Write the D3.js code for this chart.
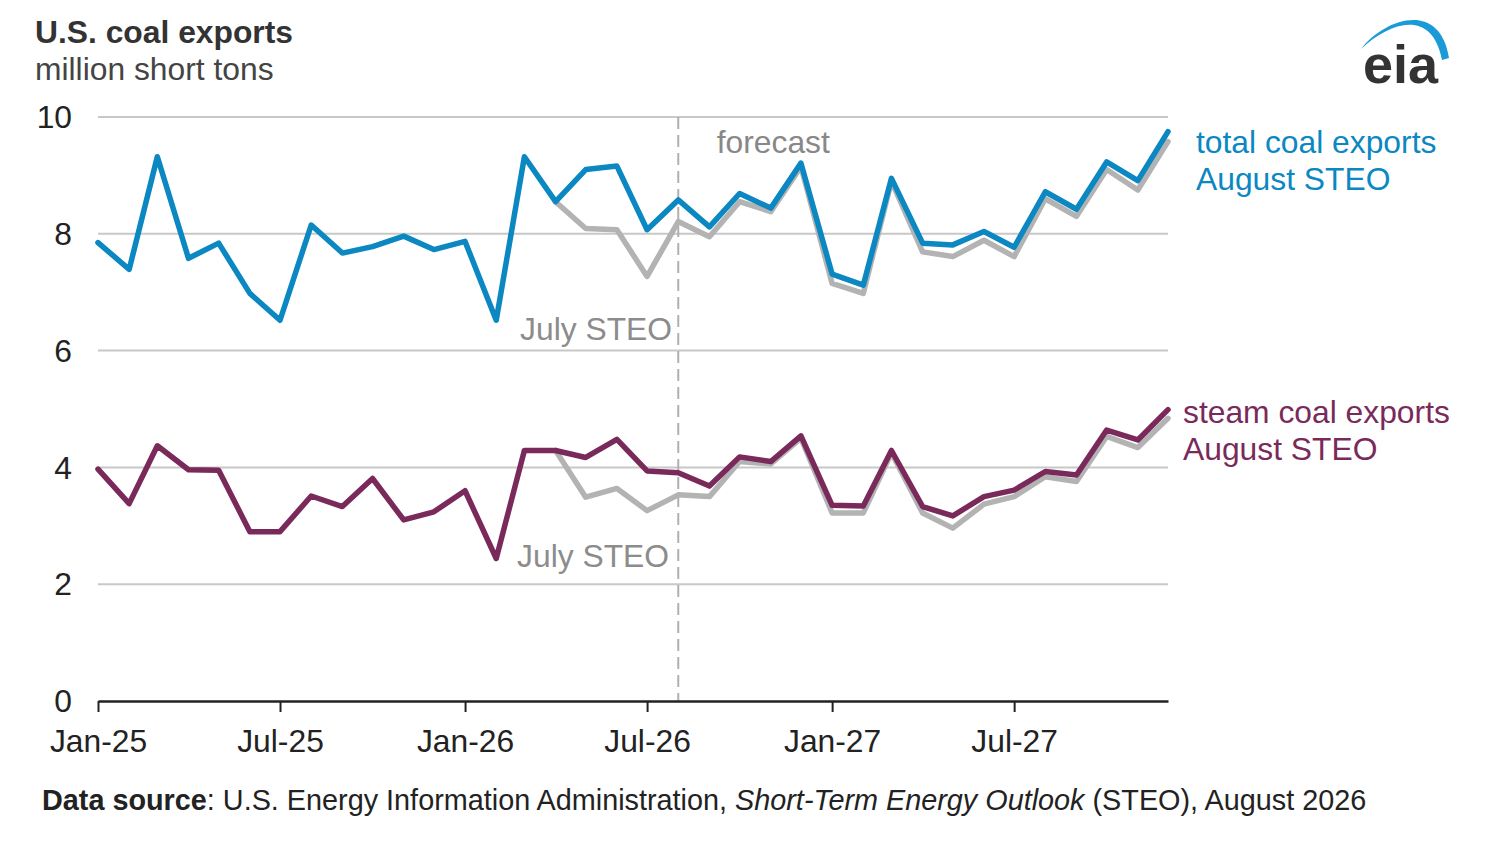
<!DOCTYPE html>
<html>
  <head>
    <meta charset="utf-8">
    <title>U.S. coal exports</title>
    <script src="https://d3js.org/d3.v7.min.js"></script>
    <style>
      body { margin: 0; background: #fff; }
      text { font-family: "Liberation Sans", Arial, sans-serif; }
    </style>
  </head>
  <body>
    <svg id="chart" width="1486" height="844"></svg>
    <script>
// months shown on the x axis
var months = [
  "2025-01","2025-02","2025-03","2025-04","2025-05","2025-06","2025-07","2025-08","2025-09","2025-10","2025-11","2025-12",
  "2026-01","2026-02","2026-03","2026-04","2026-05","2026-06","2026-07","2026-08","2026-09","2026-10","2026-11","2026-12",
  "2027-01","2027-02","2027-03","2027-04","2027-05","2027-06","2027-07","2027-08","2027-09","2027-10","2027-11","2027-12"
];

// total coal exports, August STEO
var totalAug = [7.85,7.39,9.32,7.58,7.84,6.98,6.52,8.15,7.67,7.78,7.96,7.73,
                7.87,6.52,9.32,8.55,9.10,9.16,8.07,8.58,8.12,8.69,8.44,9.21,
                7.31,7.12,8.95,7.84,7.81,8.04,7.77,8.72,8.42,9.23,8.91,9.75];
// total coal exports, July STEO (shown from Apr-26)
var totalJul = [null,null,null,null,null,null,null,null,null,null,null,null,
                null,null,null,8.55,8.09,8.07,7.27,8.21,7.95,8.55,8.38,9.15,
                7.15,6.98,8.90,7.69,7.61,7.89,7.61,8.60,8.30,9.10,8.75,9.58];
// steam coal exports, August STEO
var steamAug = [3.97,3.38,4.37,3.96,3.95,2.90,2.90,3.51,3.33,3.81,3.10,3.24,
                3.60,2.44,4.29,4.29,4.17,4.48,3.94,3.91,3.68,4.18,4.10,4.54,
                3.35,3.34,4.29,3.33,3.17,3.50,3.61,3.93,3.87,4.64,4.47,4.99];
// steam coal exports, July STEO
var steamJul = [null,null,null,null,null,null,null,null,null,null,null,null,
                null,null,null,4.29,3.49,3.64,3.26,3.53,3.50,4.10,4.06,4.50,
                3.22,3.22,4.25,3.22,2.96,3.37,3.50,3.84,3.76,4.53,4.34,4.84];

var yTicks = [0, 2, 4, 6, 8, 10];
var forecastStart = "2026-08";

var parseMonth = d3.timeParse("%Y-%m");
var dates = months.map(parseMonth);

var svg = d3.select("#chart");

var plotLeft = 98, plotRight = 1168, plotTop = 117, plotBottom = 701;
var fs = 31.8;

var x = d3.scaleTime()
  .domain([dates[0], dates[dates.length - 1]])
  .range([plotLeft, plotRight]);

var y = d3.scaleLinear()
  .domain([0, 10])
  .range([plotBottom, plotTop]);

// title
svg.append("text")
  .attr("x", 35).attr("y", 43)
  .attr("font-size", fs).attr("font-weight", "bold").attr("fill", "#333")
  .text("U.S. coal exports");
svg.append("text")
  .attr("x", 35).attr("y", 80)
  .attr("font-size", fs).attr("fill", "#444")
  .text("million short tons");

// gridlines
svg.append("g")
  .selectAll("line")
  .data(yTicks.filter(function(d) { return d > 0; }))
  .enter().append("line")
  .attr("x1", plotLeft).attr("x2", plotRight)
  .attr("y1", function(d) { return y(d); })
  .attr("y2", function(d) { return y(d); })
  .attr("stroke", "#c8c8c8").attr("stroke-width", 2);

// y labels
svg.append("g")
  .selectAll("text")
  .data(yTicks)
  .enter().append("text")
  .attr("x", 72)
  .attr("y", function(d) { return y(d); })
  .attr("dy", "0.35em")
  .attr("text-anchor", "end")
  .attr("font-size", fs).attr("fill", "#222")
  .text(function(d) { return d; });

// forecast divider
var fx = x(parseMonth(forecastStart));
svg.append("line")
  .attr("x1", fx).attr("x2", fx)
  .attr("y1", plotTop).attr("y2", plotBottom)
  .attr("stroke", "#b0b0b0").attr("stroke-width", 2)
  .attr("stroke-dasharray", "12,6");

svg.append("text")
  .attr("x", fx + 95).attr("y", 153)
  .attr("text-anchor", "middle")
  .attr("font-size", fs).attr("fill", "#888")
  .text("forecast");

// lines
var line = d3.line()
  .defined(function(d) { return d.v != null; })
  .x(function(d) { return x(d.date); })
  .y(function(d) { return y(d.v); });

function series(vals) {
  return vals.map(function(v, i) { return { date: dates[i], v: v }; });
}

var lines = [
  { vals: totalJul, color: "#b3b3b3" },
  { vals: steamJul, color: "#b3b3b3" },
  { vals: totalAug, color: "#0b87c2" },
  { vals: steamAug, color: "#7a2a5a" }
];

svg.append("g")
  .selectAll("path")
  .data(lines)
  .enter().append("path")
  .attr("d", function(d) { return line(series(d.vals)); })
  .attr("fill", "none")
  .attr("stroke", function(d) { return d.color; })
  .attr("stroke-width", 5.5)
  .attr("stroke-linejoin", "round")
  .attr("stroke-linecap", "round");

// x axis
var xAxis = d3.axisBottom(x)
  .ticks(d3.timeMonth.every(6))
  .tickFormat(d3.timeFormat("%b-%y"))
  .tickSizeInner(11)
  .tickSizeOuter(0)
  .tickPadding(17);

var gx = svg.append("g")
  .attr("transform", "translate(0," + plotBottom + ")")
  .call(xAxis);
gx.select(".domain").attr("stroke", "#222").attr("stroke-width", 2.5);
gx.selectAll(".tick line").attr("stroke", "#222").attr("stroke-width", 2);
gx.selectAll(".tick text")
  .attr("font-size", fs).attr("fill", "#222")
  .attr("font-family", "Liberation Sans, Arial, sans-serif");

// series labels
svg.append("text")
  .attr("x", 672).attr("y", 340)
  .attr("text-anchor", "end")
  .attr("font-size", fs).attr("fill", "#8c8c8c")
  .text("July STEO");
svg.append("text")
  .attr("x", 669).attr("y", 567)
  .attr("text-anchor", "end")
  .attr("font-size", fs).attr("fill", "#8c8c8c")
  .text("July STEO");

var totalLab = svg.append("text")
  .attr("x", 1196).attr("y", 153)
  .attr("font-size", fs).attr("fill", "#0b87c2");
totalLab.append("tspan").text("total coal exports");
totalLab.append("tspan").attr("x", 1196).attr("dy", 37).text("August STEO");

var steamLab = svg.append("text")
  .attr("x", 1183).attr("y", 423)
  .attr("font-size", fs).attr("fill", "#7a2a5a");
steamLab.append("tspan").text("steam coal exports");
steamLab.append("tspan").attr("x", 1183).attr("dy", 37).text("August STEO");

// source
var src = svg.append("text")
  .attr("x", 42).attr("y", 810)
  .attr("font-size", 28.8).attr("fill", "#222");
src.append("tspan").attr("font-weight", "bold").text("Data source");
src.append("tspan").text(": U.S. Energy Information Administration, ");
src.append("tspan").attr("font-style", "italic").text("Short-Term Energy Outlook");
src.append("tspan").text(" (STEO), August 2026");

// eia logo
svg.append("path")
  .attr("d", "M1361,49 C1385,18 1440,0 1449,58 L1442,60 C1432,8 1390,22 1361,49 Z")
  .attr("fill", "#1a9ad6");
svg.append("text")
  .attr("x", 1363).attr("y", 83)
  .attr("font-size", 54).attr("font-weight", "bold").attr("fill", "#333")
  .text("eia");
    </script>
  </body>
</html>
